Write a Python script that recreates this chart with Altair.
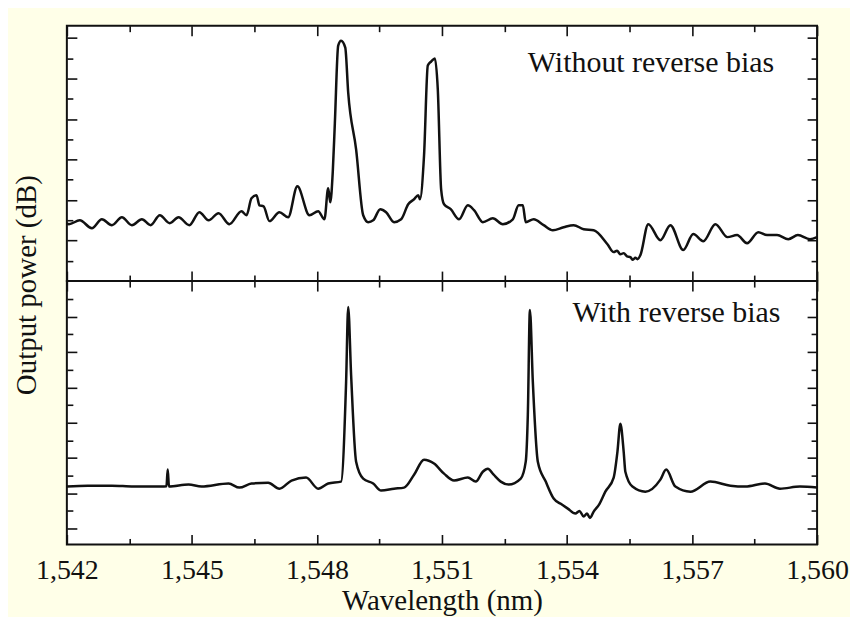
import altair as alt
import pandas as pd

FONT = "Liberation Serif"
INK = "#111111"
CREAM = "#FFFFE8"

# ---- data (wavelength in nm, output power in tick units) ----
top_wl = [1542.00, 1542.05, 1542.31, 1542.60, 1542.84, 1543.08, 1543.32, 1543.56, 1543.80, 1544.01,
          1544.23, 1544.47, 1544.68, 1544.94, 1545.18, 1545.40, 1545.64, 1545.90, 1546.19, 1546.31,
          1546.43, 1546.55, 1546.62, 1546.72, 1546.86, 1547.10, 1547.31, 1547.53, 1547.82, 1548.03,
          1548.18, 1548.27, 1548.32, 1548.38, 1548.43, 1548.51, 1548.58, 1548.68, 1548.75, 1548.94,
          1549.11, 1549.23, 1549.35, 1549.52, 1549.66, 1549.85, 1550.02, 1550.19, 1550.33, 1550.43,
          1550.47, 1550.57, 1550.66, 1550.74, 1550.83, 1550.90, 1550.98, 1551.05, 1551.21, 1551.41,
          1551.62, 1551.77, 1551.98, 1552.22, 1552.46, 1552.70, 1552.84, 1552.94, 1553.01, 1553.20,
          1553.44, 1553.66, 1553.92, 1554.16, 1554.40, 1554.64, 1554.97, 1555.12, 1555.20, 1555.28,
          1555.36, 1555.44, 1555.52, 1555.58, 1555.64, 1555.69, 1555.76, 1555.95, 1556.24, 1556.48,
          1556.79, 1557.03, 1557.27, 1557.56, 1557.85, 1558.08, 1558.32, 1558.59, 1558.80, 1559.04,
          1559.31, 1559.54, 1559.83, 1560.00]
top_db = [2.85, 2.81, 3.00, 2.61, 3.05, 2.76, 3.15, 2.76, 3.05, 2.76,
          3.25, 2.86, 3.15, 2.76, 3.40, 3.00, 3.35, 2.81, 3.45, 3.25,
          4.09, 4.24, 3.74, 3.69, 2.96, 3.40, 3.15, 4.68, 3.25, 3.45,
          3.05, 4.58, 3.89, 5.40, 7.80, 11.63, 11.87, 11.53, 9.31, 6.50,
          3.25, 2.91, 3.00, 3.55, 3.40, 2.91, 3.05, 3.79, 4.04, 4.24,
          4.04, 6.21, 10.64, 10.84, 10.99, 9.46, 4.53, 3.79, 3.55, 3.05,
          3.74, 3.50, 2.91, 3.10, 2.81, 3.05, 3.74, 3.74, 2.91, 3.05,
          2.76, 2.51, 2.66, 2.76, 2.56, 2.51, 1.82, 1.43, 1.50, 1.32,
          1.38, 1.22, 1.18, 1.05, 1.15, 1.08, 1.28, 2.81, 2.02, 2.76,
          1.53, 2.32, 1.97, 2.81, 2.17, 2.27, 1.87, 2.41, 2.27, 2.27,
          2.07, 2.27, 2.07, 2.17]

bot_wl = [1542.00, 1542.50, 1543.08, 1543.60, 1544.27, 1544.39, 1544.42, 1544.45, 1544.92, 1545.23,
          1545.88, 1546.14, 1546.43, 1546.83, 1547.10, 1547.39, 1547.74, 1548.03, 1548.27, 1548.58,
          1548.70, 1548.75, 1548.82, 1548.94, 1549.11, 1549.35, 1549.54, 1549.85, 1550.09, 1550.33,
          1550.57, 1550.81, 1551.05, 1551.29, 1551.62, 1551.81, 1551.98, 1552.10, 1552.24, 1552.41,
          1552.60, 1552.89, 1553.01, 1553.06, 1553.11, 1553.18, 1553.30, 1553.49, 1553.68, 1553.85,
          1554.02, 1554.20, 1554.30, 1554.40, 1554.48, 1554.55, 1554.64, 1554.78, 1554.92, 1555.12,
          1555.21, 1555.28, 1555.36, 1555.40, 1555.57, 1555.88, 1556.24, 1556.38, 1556.60, 1556.96,
          1557.44, 1557.92, 1558.28, 1558.75, 1559.11, 1559.59, 1560.00]
bot_db = [3.28, 3.33, 3.33, 3.28, 3.28, 3.30, 4.24, 3.28, 3.39, 3.28,
          3.45, 3.22, 3.45, 3.50, 3.16, 3.62, 3.79, 3.16, 3.45, 3.56,
          9.21, 13.45, 9.60, 4.69, 3.73, 3.45, 3.05, 3.16, 3.22, 3.95,
          4.80, 4.58, 4.01, 3.62, 3.79, 3.56, 4.12, 4.29, 3.95, 3.56,
          3.39, 3.73, 4.69, 7.34, 13.28, 9.21, 4.69, 3.56, 2.60, 2.30,
          2.03, 1.75, 1.90, 1.58, 1.75, 1.50, 1.86, 2.30, 2.99, 3.79,
          5.25, 6.84, 5.25, 4.12, 3.28, 2.99, 3.67, 4.24, 3.28, 2.99,
          3.56, 3.33, 3.28, 3.45, 3.16, 3.28, 3.22]

notes_top = ["Without reverse bias"]
notes_top_wl = [1553.06]
notes_top_db = [10.30]
notes_bot = ["With reverse bias"]
notes_bot_wl = [1554.13]
notes_bot_db = [12.60]

x_major = [1542, 1545, 1548, 1551, 1554, 1557, 1560]
x_minor = [1543.5, 1546.5, 1549.5, 1552.5, 1555.5, 1558.5]
top_y_major = [2, 4, 6, 8, 10, 12]
top_y_minor = [1, 3, 5, 7, 9, 11]
bot_y_major = [0.9, 2.9, 4.9, 6.9, 8.9, 10.9, 12.9]
bot_y_minor = [1.9, 3.9, 5.9, 7.9, 9.9, 11.9, 13.9]

X_DOMAIN = [1542, 1560]
TOP_DOMAIN = [0, 12.61]
BOT_DOMAIN = [0, 14.92]

MAJ, MIN = 10, 6


def axis(values, size, orient, labels=False):
    kw = dict(values=values, orient=orient, tickSize=size, offset=-size, domain=False,
              grid=False, labels=labels, ticks=True, tickColor=INK, tickWidth=1.6,
              minExtent=0)
    if labels:
        kw.update(format=",d", labelFont=FONT, labelFontSize=28, labelColor=INK,
                  labelPadding=12, labelFlush=False, labelOverlap=False,
                  titleFont=FONT, titleFontSize=29, titleFontWeight="normal",
                  titleColor=INK, titlePadding=2)
    else:
        kw.update(maxExtent=0)
    return alt.Axis(**kw)


def panel(wl, db, height, ydomain, ymaj, ymin, bottom, nwl, ndb, ntext):
    df = pd.DataFrame({"wl": wl, "db": db})
    ndf = pd.DataFrame({"wl": nwl, "db": ndb, "label": ntext})
    xs = alt.Scale(domain=X_DOMAIN, nice=False, zero=False)
    ys = alt.Scale(domain=ydomain, nice=False, zero=False)

    def layer(xax, yax, opacity, xtitle=None):
        if xtitle:
            xenc = alt.X("wl:Q", scale=xs, axis=xax, title=xtitle)
        else:
            xenc = alt.X("wl:Q", scale=xs, axis=xax, title=None)
        return alt.Chart(df).mark_line(color=INK, strokeWidth=2.5, opacity=opacity,
                                       interpolate="monotone").encode(
            x=xenc, y=alt.Y("db:Q", scale=ys, axis=yax, title=None))

    l1 = layer(axis(x_major, MAJ, "bottom", labels=bottom), axis(ymaj, MAJ, "left"), 1,
               "Wavelength (nm)" if bottom else None)
    l2 = layer(axis(x_minor, MIN, "bottom"), axis(ymin, MIN, "left"), 0)
    l3 = layer(axis(x_major, MAJ, "top"), axis(ymaj, MAJ, "right"), 0)
    l4 = layer(axis(x_minor, MIN, "top"), axis(ymin, MIN, "right"), 0)
    txt = alt.Chart(ndf).mark_text(align="left", baseline="alphabetic", font=FONT,
                                   fontSize=30, color=INK).encode(
        x=alt.X("wl:Q", scale=xs, axis=None),
        y=alt.Y("db:Q", scale=ys, axis=None),
        text="label:N")
    return alt.layer(l1, l2, l3, l4, txt).resolve_axis(x="independent", y="independent").properties(
        width=752, height=height)


top = panel(top_wl, top_db, 256, TOP_DOMAIN, top_y_major, top_y_minor, False,
            notes_top_wl, notes_top_db, notes_top)
bot = panel(bot_wl, bot_db, 264, BOT_DOMAIN, bot_y_major, bot_y_minor, True,
            notes_bot_wl, notes_bot_db, notes_bot)

chart = alt.vconcat(top, bot, spacing=0, bounds="flush").properties(
    title=alt.TitleParams(text="Output power (dB)", orient="left", anchor="middle",
                          font=FONT, fontSize=29, fontWeight="normal", color=INK,
                          offset=-8, dx=35),
    padding={"left": 5, "top": 15, "right": 0, "bottom": 0},
    background=CREAM,
).configure_view(stroke=INK, strokeWidth=2, fill="white")

chart.save("out.html", embed_options={"renderer": "svg", "actions": False})
